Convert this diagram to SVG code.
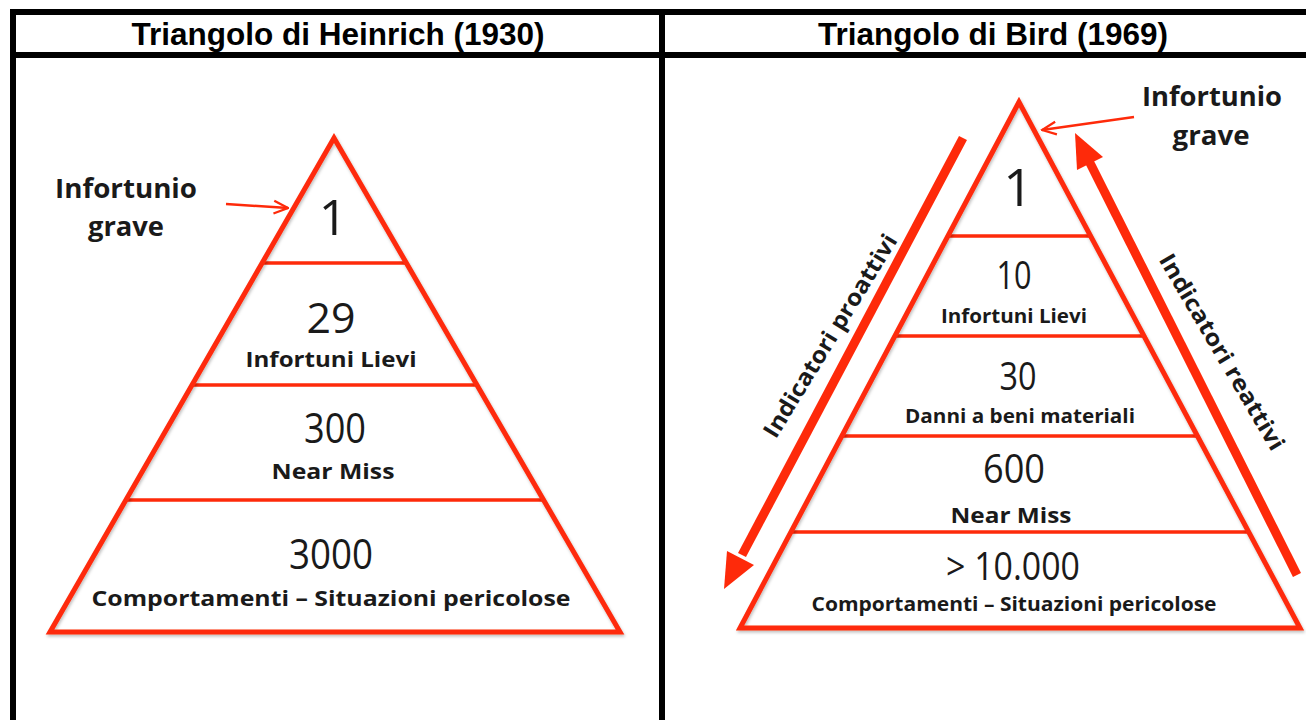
<svg xmlns="http://www.w3.org/2000/svg" width="1306" height="720" viewBox="0 0 1306 720">
<defs>
<style>
.hdr{font-family:"Liberation Sans",Arial,sans-serif;font-weight:bold;font-size:31.5px;fill:#000;text-anchor:middle}
.lbl{font-family:"Open Sans","Noto Sans",sans-serif;font-weight:700;fill:#1a1a1a;text-anchor:middle}
.num{font-family:"Open Sans","Noto Sans",sans-serif;font-weight:400;fill:#1a1a1a;text-anchor:middle}
.tri{fill:none;stroke:#fe2a0a;stroke-width:5;stroke-linejoin:miter}
.triw{fill:#fff;stroke:none}
.band{stroke:#fe2a0a;stroke-width:3.5}
.grid{stroke:#000;stroke-width:6;fill:none}
.thin{stroke:#fe2a0a;stroke-width:2.5;fill:none}
.thick{stroke:#fe2a0a;stroke-width:9;fill:none}
.head{fill:#fe2a0a}
</style>
<marker id="open" viewBox="0 0 12 12" refX="11" refY="6" markerWidth="17" markerHeight="17" orient="auto" markerUnits="userSpaceOnUse">
<path d="M1,1.5 L11,6 L1,10.5" fill="none" stroke="#fe2a0a" stroke-width="1.6"/>
</marker>
<filter id="sh" x="-5%" y="-5%" width="110%" height="110%">
<feDropShadow dx="1" dy="2" stdDeviation="1.5" flood-color="#000" flood-opacity="0.25"/>
</filter>
</defs>
<rect width="1306" height="720" fill="#fff"/>

<g id="table">
<line class="grid" x1="10" y1="12" x2="1306" y2="12"/>
<line class="grid" x1="10" y1="55" x2="1306" y2="55"/>
<line class="grid" x1="13" y1="9" x2="13" y2="720"/>
<line class="grid" x1="662" y1="9" x2="662" y2="720"/>
<text class="hdr" x="338" y="44.5">Triangolo di Heinrich (1930)</text>
<text class="hdr" x="993" y="44.5">Triangolo di Bird (1969)</text>
</g>

<g id="heinrich">
<polygon class="triw" points="334,138 50,632 620,632"/>
<g id="h-bands">
<line class="band" x1="262" y1="263" x2="407" y2="263"/>
<line class="band" x1="192" y1="385" x2="477" y2="385"/>
<line class="band" x1="126" y1="500" x2="544" y2="500"/>
</g>
<polygon class="tri" filter="url(#sh)" points="334,138 50,632 620,632"/>
<g id="h-level1"><text class="num" x="333" y="235" font-size="50">1</text></g>
<g id="h-level2"><text class="num" x="331" y="333" font-size="42" textLength="49" lengthAdjust="spacingAndGlyphs">29</text>
<text class="lbl" x="331" y="367" font-size="22" textLength="171" lengthAdjust="spacingAndGlyphs">Infortuni Lievi</text></g>
<g id="h-level3"><text class="num" x="335" y="443" font-size="42" textLength="62" lengthAdjust="spacingAndGlyphs">300</text>
<text class="lbl" x="333" y="479" font-size="22" textLength="123" lengthAdjust="spacingAndGlyphs">Near Miss</text></g>
<g id="h-level4"><text class="num" x="331" y="569" font-size="42" textLength="84" lengthAdjust="spacingAndGlyphs">3000</text>
<text class="lbl" x="331" y="606" font-size="22" textLength="479" lengthAdjust="spacingAndGlyphs">Comportamenti – Situazioni pericolose</text></g>
<g id="h-callout">
<text class="lbl" x="126" y="198" font-size="26" textLength="142" lengthAdjust="spacingAndGlyphs">Infortunio</text>
<text class="lbl" x="126" y="236" font-size="26" textLength="76" lengthAdjust="spacingAndGlyphs">grave</text>
</g>
</g>

<g id="bird">
<polygon class="triw" points="1019,102 740,628 1300,628"/>
<g id="b-bands">
<line class="band" x1="948" y1="236" x2="1091" y2="236"/>
<line class="band" x1="895" y1="336" x2="1144" y2="336"/>
<line class="band" x1="842" y1="436" x2="1197" y2="436"/>
<line class="band" x1="791" y1="532" x2="1249" y2="532"/>
</g>
<polygon class="tri" filter="url(#sh)" points="1019,102 740,628 1300,628"/>
<g id="b-level1"><text class="num" x="1018" y="206" font-size="52">1</text></g>
<g id="b-level2"><text class="num" x="1014" y="289" font-size="38" textLength="35" lengthAdjust="spacingAndGlyphs">10</text>
<text class="lbl" x="1014" y="323" font-size="19" textLength="146" lengthAdjust="spacingAndGlyphs">Infortuni Lievi</text></g>
<g id="b-level3"><text class="num" x="1018" y="390" font-size="38" textLength="37" lengthAdjust="spacingAndGlyphs">30</text>
<text class="lbl" x="1020" y="423" font-size="19" textLength="230" lengthAdjust="spacingAndGlyphs">Danni a beni materiali</text></g>
<g id="b-level4"><text class="num" x="1014" y="483" font-size="40" textLength="62" lengthAdjust="spacingAndGlyphs">600</text>
<text class="lbl" x="1011" y="523" font-size="22" textLength="121" lengthAdjust="spacingAndGlyphs">Near Miss</text></g>
<g id="b-level5"><text class="num" x="1013" y="580" font-size="38" textLength="134" lengthAdjust="spacingAndGlyphs">&gt; 10.000</text>
<text class="lbl" x="1014" y="611" font-size="19" textLength="405" lengthAdjust="spacingAndGlyphs">Comportamenti – Situazioni pericolose</text></g>
<g id="b-callout">
<text class="lbl" x="1212" y="106" font-size="26" textLength="140" lengthAdjust="spacingAndGlyphs">Infortunio</text>
<text class="lbl" x="1211" y="145" font-size="26" textLength="77" lengthAdjust="spacingAndGlyphs">grave</text>
</g>
<g id="b-proattivi">
<text class="lbl" font-size="23" transform="translate(837,340) rotate(-58.5)" textLength="234" lengthAdjust="spacingAndGlyphs">Indicatori proattivi</text>
</g>
<g id="b-reattivi">
<text class="lbl" font-size="23" transform="translate(1215,356) rotate(59.5)" textLength="224" lengthAdjust="spacingAndGlyphs">Indicatori reattivi</text>
</g>
</g>

<g id="connectors">
<line class="thin" x1="226" y1="204" x2="288" y2="208" marker-end="url(#open)"/>
<line class="thin" x1="1134" y1="117" x2="1042" y2="130" marker-end="url(#open)"/>
<line class="thick" x1="963" y1="138" x2="742" y2="555"/>
<polygon class="head" points="724,589 754,565 727,551"/>
<line class="thick" x1="1297" y1="575" x2="1089" y2="161"/>
<polygon class="head" points="1075,133 1103,157 1077,170"/>
</g>
</svg>
